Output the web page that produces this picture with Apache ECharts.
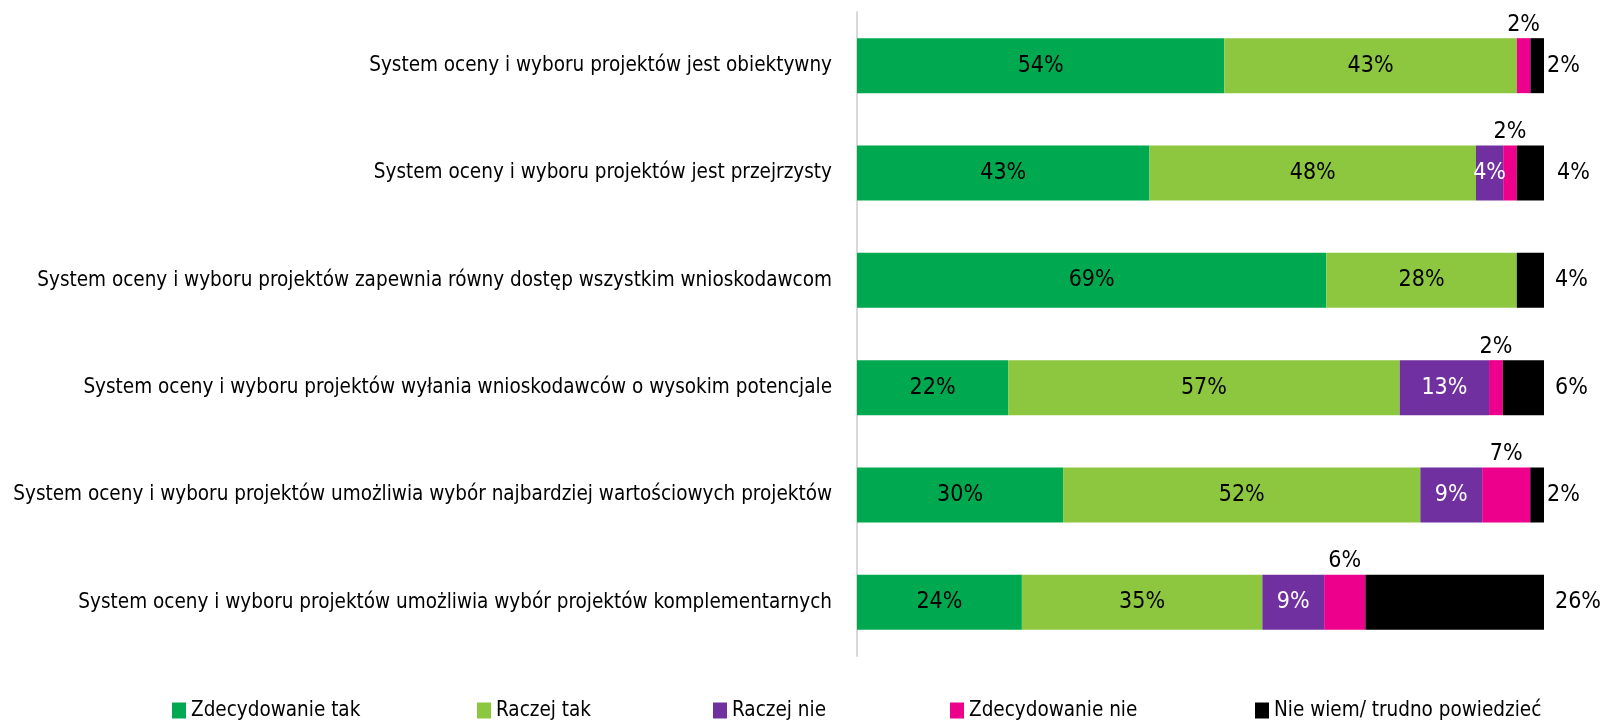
<!DOCTYPE html>
<html>
<head>
<meta charset="utf-8">
<script src="https://cdn.jsdelivr.net/npm/echarts@6/dist/echarts.min.js"></script>
<style>
html,body{margin:0;padding:0;background:#fff;}
#c{width:1604px;height:724px;}
</style>
</head>
<body>
<div id="c"></div>
<script>
const categories = [
  'System oceny i wyboru projektów jest obiektywny',
  'System oceny i wyboru projektów jest przejrzysty',
  'System oceny i wyboru projektów zapewnia równy dostęp wszystkim wnioskodawcom',
  'System oceny i wyboru projektów wyłania wnioskodawców o wysokim potencjale',
  'System oceny i wyboru projektów umożliwia wybór najbardziej wartościowych projektów',
  'System oceny i wyboru projektów umożliwia wybór projektów komplementarnych'
];
const seriesNames = ['Zdecydowanie tak','Raczej tak','Raczej nie','Zdecydowanie nie','Nie wiem/ trudno powiedzieć'];
const zdecydowanieTak = [54, 43, 69, 22, 30, 24];
const raczejTak       = [43, 48, 28, 57, 52, 35];
const raczejNie       = [0, 4, 0, 13, 9, 9];
const zdecydowanieNie = [2, 2, 0, 2, 7, 6];
const nieWiem         = [2, 4, 4, 6, 2, 26];

const allValues = [zdecydowanieTak, raczejTak, raczejNie, zdecydowanieNie, nieWiem];
const colors = ['#00A94F', '#8DC63F', '#7030A0', '#EC008C', '#000000'];
const FONT = "'DejaVu Sans Condensed', 'Liberation Sans Narrow', sans-serif";
const rowSums = categories.map((_, i) => allValues.reduce((s, arr) => s + arr[i], 0));
const blackLabelGap = [3, 13, 11, 11, 3, 11];
const legendLeft = [167, 472, 708, 945, 1250];

const series = allValues.map((vals, si) => ({
  name: seriesNames[si],
  type: 'bar',
  stack: 'total',
  barWidth: 55,
  itemStyle: { color: colors[si] },
  data: vals.map((v, i) => {
    const item = { value: v === 0 ? null : v / rowSums[i] * 100 };
    const label = {
      show: v !== 0,
      formatter: v + '%',
      fontFamily: FONT,
      fontSize: 23,
      color: si === 2 ? '#ffffff' : '#000000'
    };
    if (si === 3) { label.position = 'top'; label.distance = 2; }
    else if (si === 4) { label.position = 'right'; label.distance = blackLabelGap[i]; }
    else { label.position = 'inside'; }
    item.label = label;
    return item;
  })
}));

const legends = seriesNames.map((n, i) => ({
  data: [n],
  left: legendLeft[i],
  top: 695,
  itemWidth: 14,
  itemHeight: 16,
  itemGap: 0,
  icon: 'rect',
  textStyle: { fontFamily: FONT, fontSize: 20.5, color: '#000', padding: [0, 0, 0, 0] }
}));

const chart = echarts.init(document.getElementById('c'));
chart.setOption({
  animation: false,
  backgroundColor: '#ffffff',
  legend: legends,
  grid: { left: 857, right: 60, top: 12, height: 644, containLabel: false, outerBoundsMode: 'none' },
  xAxis: { type: 'value', min: 0, max: 100, show: false, splitLine: { show: false } },
  yAxis: {
    type: 'category',
    data: categories,
    inverse: true,
    axisLine: { show: true, lineStyle: { color: '#d9d9d9', width: 2 } },
    axisTick: { show: false },
    axisLabel: { margin: 25, fontFamily: FONT, fontSize: 20.5, color: '#000' }
  },
  series: series
});
</script>
</body>
</html>
